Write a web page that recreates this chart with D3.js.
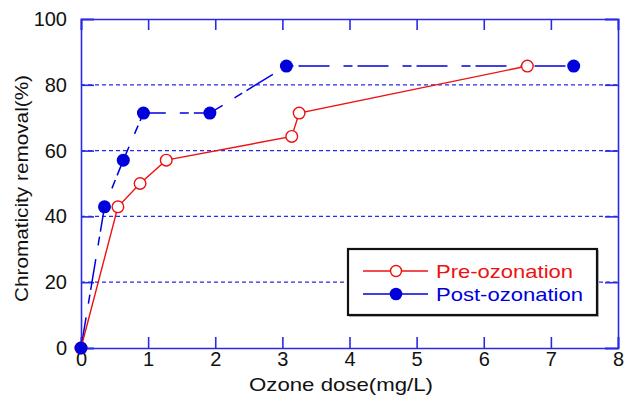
<!DOCTYPE html>
<html><head><meta charset="utf-8">
<script src="https://cdn.jsdelivr.net/npm/d3@7/dist/d3.min.js"></script>
<style>body{margin:0;background:#fff}svg{display:block;font-family:"Liberation Sans",Arial,sans-serif}</style>
</head><body>
<svg id="c" width="631" height="399"></svg>
<script>
const preX = [0, 0.55, 0.88, 1.27, 3.14, 3.25, 6.65];
const preY = [0, 42.9, 50, 57.1, 64.3, 71.4, 85.7];
const postX = [0, 0.35, 0.63, 0.93, 1.92, 3.06, 7.34];
const postY = [0, 42.9, 57.1, 71.4, 71.4, 85.7, 85.7];
const xTicks = [0,1,2,3,4,5,6,7,8];
const yTicks = [0,20,40,60,80,100];
const gridY = [20,40,60,80];
const seriesNames = ["Pre-ozonation","Post-ozonation"];
const xTitle = "Ozone dose(mg/L)";
const yTitle = "Chromaticity removal(%)";

const svg = d3.select("#c");
const L=81,R=618,T=19,B=348;
const x = d3.scaleLinear().domain([0,8]).range([L,R]);
const y = d3.scaleLinear().domain([0,100]).range([B,T]);
const axisCol="#2a2ae6", red="#ee1111", blue="#0000dd";

// gridlines
svg.append("g").selectAll("line").data(gridY).join("line")
  .attr("x1",L).attr("x2",R).attr("y1",d=>y(d)).attr("y2",d=>y(d))
  .attr("stroke",axisCol).attr("stroke-width",1.3).attr("stroke-dasharray","4,3");

// axes
const tl=11;
svg.append("g").attr("transform",`translate(0,${B})`)
  .call(d3.axisBottom(x).tickValues(xTicks).tickSize(-tl).tickPadding(4).tickFormat(d3.format("d")));
svg.append("g").attr("transform",`translate(0,${T})`)
  .call(d3.axisTop(x).tickValues(xTicks).tickSize(-tl).tickFormat(""));
svg.append("g").attr("transform",`translate(${L},0)`)
  .call(d3.axisLeft(y).tickValues(yTicks).tickSize(-13).tickPadding(14).tickFormat(d3.format("d")));
svg.append("g").attr("transform",`translate(${R},0)`)
  .call(d3.axisRight(y).tickValues(yTicks).tickSize(-13).tickFormat(""));
svg.selectAll(".domain").attr("stroke",axisCol).attr("stroke-width",1.6);
svg.selectAll(".tick line").attr("stroke",axisCol).attr("stroke-width",1.6);
svg.selectAll(".tick text").attr("font-size",20).attr("fill","#111")
  .attr("font-family","'Liberation Sans',Arial,sans-serif");

// titles
svg.append("text").attr("x",(249+433)/2).attr("y",391).attr("text-anchor","middle")
  .attr("font-size",19).attr("textLength",184).attr("lengthAdjust","spacingAndGlyphs")
  .attr("fill","#111").text(xTitle);
svg.append("text").attr("transform","translate(28,188.5) rotate(-90)").attr("text-anchor","middle")
  .attr("font-size",19).attr("textLength",227).attr("lengthAdjust","spacingAndGlyphs")
  .attr("fill","#111").text(yTitle);

// lines
const line = d3.line().x(d=>x(d[0])).y(d=>y(d[1]));
const pre = preX.map((v,i)=>[v,preY[i]]);
const post = postX.map((v,i)=>[v,postY[i]]);
svg.append("path").attr("d",line(post)).attr("fill","none").attr("stroke",blue)
  .attr("stroke-width",1.5).attr("stroke-dasharray","31,14,9,5");
svg.append("path").attr("d",line(pre)).attr("fill","none").attr("stroke",red).attr("stroke-width",1.4);
svg.append("g").selectAll("circle").data(pre).join("circle")
  .attr("cx",d=>x(d[0])).attr("cy",d=>y(d[1])).attr("r",5.8)
  .attr("fill","#fff").attr("stroke",red).attr("stroke-width",1.4);
svg.append("g").selectAll("circle").data(post).join("circle")
  .attr("cx",d=>x(d[0])).attr("cy",d=>y(d[1])).attr("r",6.5).attr("fill",blue);

// legend
const lg = svg.append("g");
lg.append("rect").attr("x",349.5).attr("y",250.5).attr("width",249).attr("height",66)
  .attr("fill","none").attr("stroke","#bbb").attr("stroke-width",1);
lg.append("rect").attr("x",348).attr("y",249).attr("width",249).attr("height",66)
  .attr("fill","#fff").attr("stroke","#111").attr("stroke-width",2.2);
const leg = [{name:seriesNames[0],c:red,open:true,yy:271,w:137},{name:seriesNames[1],c:blue,open:false,yy:294,w:147}];
leg.forEach(s=>{
  lg.append("line").attr("x1",363).attr("x2",428).attr("y1",s.yy).attr("y2",s.yy)
    .attr("stroke",s.c).attr("stroke-width",1.4);
  lg.append("circle").attr("cx",396).attr("cy",s.yy).attr("r",s.open?5.5:6.3)
    .attr("fill",s.open?"#fff":s.c).attr("stroke",s.open?s.c:"none").attr("stroke-width",1.4);
  lg.append("text").attr("x",436).attr("y",s.yy+7).attr("font-size",19)
    .attr("textLength",s.w).attr("lengthAdjust","spacingAndGlyphs")
    .attr("fill",s.c).text(s.name);
});
</script>
</body></html>
